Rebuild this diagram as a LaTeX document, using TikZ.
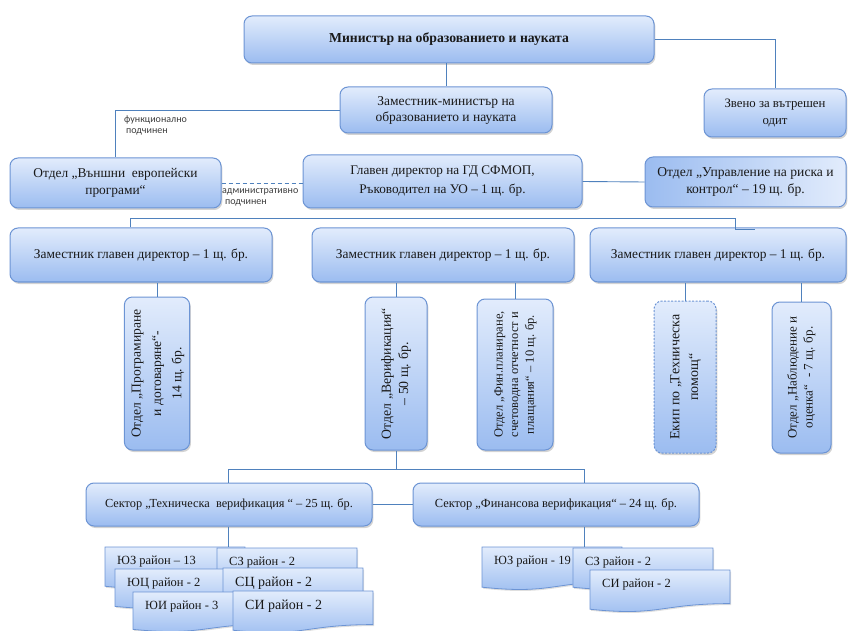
\documentclass[tikz,border=0pt]{standalone}
\usepackage{fontspec}
\setmainfont{Liberation Serif}
\newfontfamily\lblfont{Carlito}
\usetikzlibrary{shadows,calc}
\definecolor{bordc}{RGB}{108,148,212}
\definecolor{linec}{RGB}{79,129,189}
\definecolor{topc}{RGB}{226,236,252}
\definecolor{botc}{RGB}{155,188,240}
\definecolor{txtc}{RGB}{25,25,25}
\definecolor{lblc}{RGB}{60,60,60}
\tikzset{
  box/.style={draw=bordc, line width=1pt, rounded corners=8pt, top color=topc, bottom color=botc,
    text=txtc, align=center, inner sep=2pt,
    drop shadow={shadow xshift=1.3pt, shadow yshift=-2pt, opacity=0.35, fill=gray},
    font=\fontsize{13.4}{17}\selectfont},
  conn/.style={draw=linec, line width=0.9pt},
  lbl/.style={font=\lblfont\fontsize{10}{11}\selectfont, text=lblc, align=left, inner sep=0pt},
  docfill/.style={draw=bordc, line width=0.8pt, top color=topc, bottom color=botc,
    drop shadow={shadow xshift=1pt, shadow yshift=-1.5pt, opacity=0.25, fill=gray}},
  doctext/.style={text=txtc, inner sep=0pt}
}
\newcommand{\docshape}[7]{%
  \pgfmathsetmacro\dcXr{#2+#4}%
  \pgfmathsetmacro\dcYr{#3+0.8*#5}%
  \pgfmathsetmacro\dcXm{#2+0.5*#4}%
  \pgfmathsetmacro\dcYb{#3+1.11*#5}%
  \pgfmathsetmacro\dcYl{#3+0.934*#5}%
  \path[docfill] (#2,#3) -- (\dcXr,#3) -- (\dcXr,\dcYr) .. controls (\dcXm,\dcYr) and (\dcXm,\dcYb) .. (#2,\dcYl) -- cycle;
  \coordinate (#1nw) at (#2,#3);
  \node[doctext, font=#6, anchor=west] (#1) at ($(#2,#3)+(12,15)$) {#7};
}
% #1 size, #2 line spacing factor, #3 lines
\newcommand{\vtext}[3]{\rotatebox{90}{\fontsize{#1}{#1}\selectfont\renewcommand{\arraystretch}{#2}\begin{tabular}{@{}c@{}}#3\end{tabular}}}
\begin{document}
\begin{tikzpicture}[x=1pt,y=-1pt]
\useasboundingbox (0,0) rectangle (849,631);
% top level
\node[box, minimum width=410pt, minimum height=47pt, font=\bfseries\fontsize{13.7}{16}\selectfont] (min) at (449,39.5) {Министър на образованието и науката};
\node[box, minimum width=212pt, minimum height=46pt, font=\fontsize{13.5}{16}\selectfont] (dep) at (446,110) {Заместник-министър на\\образованието и науката};
\node[box, minimum width=142pt, minimum height=48pt, font=\fontsize{12.8}{17}\selectfont] (zv) at (775,113) {Звено за вътрешен\\одит};
\node[box, minimum width=211pt, minimum height=50pt, font=\fontsize{13.4}{17}\selectfont] (van) at (115.5,183) {Отдел „Външни \ европейски\\програми“};
\node[box, minimum width=279pt, minimum height=53pt, font=\fontsize{13.2}{19}\selectfont] (gd) at (442.5,181.5) {Главен директор на ГД СФМОП,\\Ръководител на УО – 1 щ. бр.};
\node[box, minimum width=201pt, minimum height=50pt, left color=botc, right color=topc, font=\fontsize{13.6}{17}\selectfont] (risk) at (745.5,182) {Отдел „Управление на риска и\\контрол“ – 19 щ. бр.};
% deputies
\node[box, minimum width=262pt, minimum height=54pt] (d1) at (141,255) {Заместник главен директор – 1 щ. бр.};
\node[box, minimum width=262pt, minimum height=54pt] (d2) at (443,255) {Заместник главен директор – 1 щ. бр.};
\node[box, minimum width=256pt, minimum height=54pt] (d3) at (718,255) {Заместник главен директор – 1 щ. бр.};
% vertical departments
\node[box, minimum width=60pt, minimum height=153pt] (prog) at (157,373.5) {\vtext{13.6}{1.5}{Отдел „Програмиране\\и договаряне“-\\14 щ. бр.}};
\node[box, minimum width=62pt, minimum height=153pt] (ver) at (396,373.5) {\vtext{13.8}{1.25}{Отдел „Верификация“\\– 50 щ. бр.}};
\node[box, minimum width=76pt, minimum height=151pt] (fin) at (515,374.5) {\vtext{12.5}{1.25}{Отдел „Фин.планиране,\\счетоводна отчетност и\\плащания“ – 10 щ. бр.}};
\node[box, dashed, dash pattern=on 2pt off 1.5pt, minimum width=62pt, minimum height=152pt] (ekip) at (685,377) {\vtext{14}{1.35}{Екип по „Техническа\\помощ“}};
\node[box, minimum width=59pt, minimum height=151pt] (nab) at (801.5,377.5) {\vtext{13}{1.23}{Отдел „Наблюдение и\\оценка“ \ - 7 щ. бр.}};
% sectors
\node[box, minimum width=286pt, minimum height=43pt, font=\fontsize{12.3}{15}\selectfont] (st) at (229,504.5) {Сектор „Техническа \ верификация “ – 25 щ. бр.};
\node[box, minimum width=286pt, minimum height=43pt, font=\fontsize{12.4}{15}\selectfont] (sf) at (556,504.5) {Сектор „Финансова верификация“ – 24 щ. бр.};
% labels
\node[lbl, anchor=north west] (lf) at (124,116) {функционално\\\hspace{2pt}подчинен};
\node[lbl, anchor=north west] (la) at (222,188) {административно\\\hspace{3pt}подчинен};
% documents
\docshape{yz}{105}{547}{140}{42}{\fontsize{12.5}{14}\selectfont}{ЮЗ район – 13}
\docshape{sz}{217}{548}{140}{42}{\fontsize{12.5}{14}\selectfont}{СЗ район - 2}
\docshape{yc}{115}{569}{140}{40}{\fontsize{12.5}{14}\selectfont}{ЮЦ район - 2}
\docshape{sc}{223}{568}{140}{42}{\fontsize{14}{16}\selectfont}{СЦ район - 2}
\docshape{yi}{133}{592}{140}{40}{\fontsize{12.5}{14}\selectfont}{ЮИ район - 3}
\docshape{si}{233}{591}{140}{42}{\fontsize{14}{16}\selectfont}{СИ район - 2}
\docshape{fyz}{482}{547}{140}{43}{\fontsize{12.5}{14}\selectfont}{ЮЗ район - 19}
\docshape{fsz}{573}{548}{140}{42}{\fontsize{12.5}{14}\selectfont}{СЗ район - 2}
\docshape{fsi}{590}{570}{140}{42}{\fontsize{12.5}{14}\selectfont}{СИ район - 2}
% connectors
\coordinate (busL) at (130,218);
\coordinate (busR) at (735,218);
\coordinate (stub) at (755,229);
\coordinate (hL) at (228,469);
\coordinate (hR) at (584,469);
\draw[conn] (min.south -| dep.north) -- (dep.north);
\draw[conn] (min.east) -| (zv.north);
\draw[conn] (dep.west) -| (van.north);
\draw[conn, dashed, dash pattern=on 4pt off 3pt] (van.east) -- (van.east -| gd.west);
\draw[conn] (gd.east) -- (risk.west);
\draw[conn] (busL |- d1.north) -- (busL) -- (busR) -- (busR |- stub) -- (stub);
\draw[conn] (prog.north) -- (prog.north |- d1.south);
\draw[conn] (ver.north) -- (ver.north |- d2.south);
\draw[conn] (fin.north) -- (fin.north |- d2.south);
\draw[conn] (ekip.north) -- (ekip.north |- d3.south);
\draw[conn] (nab.north) -- (nab.north |- d3.south);
\draw[conn] (ver.south) -- (ver.south |- hL);
\draw[conn] (hL |- st.north) -- (hL) -- (hR) -- (hR |- sf.north);
\draw[conn] (st.east) -- (sf.west);
\draw[conn] (hL |- st.south) -- (hL |- yznw);
\draw[conn] (hR |- sf.south) -- (hR |- fyznw);
\end{tikzpicture}
\end{document}
